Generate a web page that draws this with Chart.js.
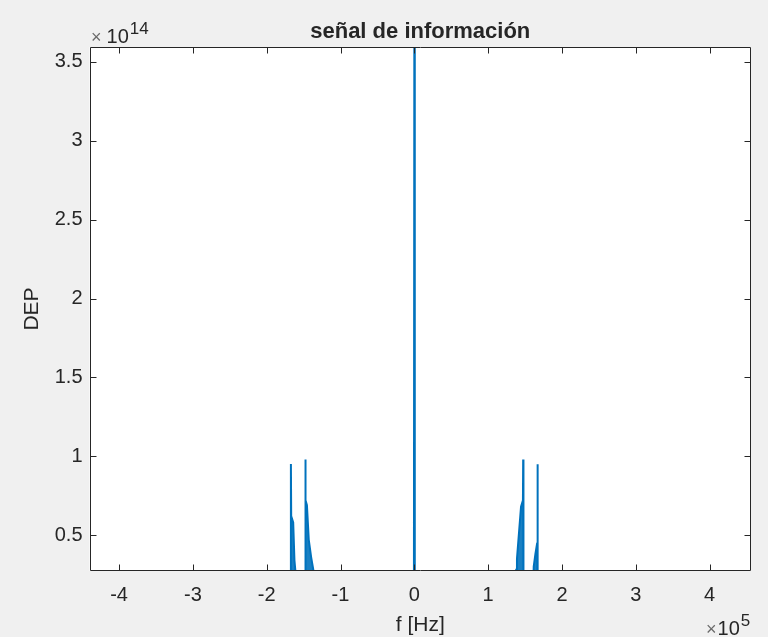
<!DOCTYPE html>
<html>
<head>
<meta charset="utf-8">
<script src="https://cdn.jsdelivr.net/npm/chart.js@4/dist/chart.umd.min.js"></script>
<style>
  html, body { margin: 0; padding: 0; background: #f0f0f0; }
  #wrap { width: 768px; height: 637px; }
</style>
</head>
<body>
<div id="wrap"><canvas id="c" width="768" height="637"></canvas></div>
<script>
// ---- data (frequency in units of 1e5 Hz, DEP in units of 1e14) ----
const freq = [-4.40,
  -1.676, -1.672, -1.668, -1.641, -1.624, -1.611, -1.600, -1.590,
  -1.480, -1.476, -1.472, -1.455, -1.430, -1.398, -1.365, -1.340,
  -0.006, 0.000, 0.006,
  1.360, 1.380, 1.390, 1.445, 1.471, 1.474, 1.478,
  1.605, 1.617, 1.640, 1.664, 1.668, 1.672,
  4.56];
const dep = [0,
  0, 0.95, 0.62, 0.58, 0.34, 0.27, 0.20, 0,
  0, 0.979, 0.72, 0.69, 0.47, 0.36, 0.27, 0,
  0, 3.80, 0,
  0, 0.28, 0.35, 0.68, 0.72, 0.979, 0,
  0, 0.30, 0.38, 0.45, 0.949, 0,
  0];
const xTicks = [-4, -3, -2, -1, 0, 1, 2, 3, 4];
const xTickLabels = ["-4", "-3", "-2", "-1", "0", "1", "2", "3", "4"];
const yTicks = [0.5, 1, 1.5, 2, 2.5, 3, 3.5];
const yTickLabels = ["0.5", "1", "1.5", "2", "2.5", "3", "3.5"];
const titleText = "señal de información";
const xLabel = "f [Hz]";
const yLabel = "DEP";
const xExp = "5";
const yExp = "14";

const FONT = "'Liberation Sans', Arial, Helvetica, sans-serif";
const TXT = "#262626";

const decor = {
  id: 'decor',
  beforeDraw(chart) {
    const { ctx, chartArea: a } = chart;
    ctx.save();
    ctx.fillStyle = '#f0f0f0';
    ctx.fillRect(0, 0, chart.width, chart.height);
    ctx.fillStyle = '#ffffff';
    ctx.fillRect(a.left, a.top, a.right - a.left, a.bottom - a.top);
    ctx.restore();
  },
  afterDraw(chart) {
    const { ctx, chartArea: a, scales } = chart;
    const L = Math.round(a.left) + 0.5, R = Math.round(a.right) - 0.5;
    const T = Math.round(a.top) + 0.5, B = Math.round(a.bottom) - 0.5;
    const tl = 6;
    ctx.save();
    ctx.strokeStyle = TXT;
    ctx.lineWidth = 1;
    ctx.beginPath();
    ctx.rect(L, T, R - L, B - T);
    xTicks.forEach(v => {
      const px = Math.round(scales.x.getPixelForValue(v)) + 0.5;
      ctx.moveTo(px, B); ctx.lineTo(px, B - tl);
      ctx.moveTo(px, T); ctx.lineTo(px, T + tl);
    });
    yTicks.forEach(v => {
      const py = Math.round(scales.y.getPixelForValue(v)) + 0.5;
      ctx.moveTo(L, py); ctx.lineTo(L + tl, py);
      ctx.moveTo(R, py); ctx.lineTo(R - tl, py);
    });
    ctx.stroke();

    ctx.fillStyle = TXT;
    // title
    ctx.font = "bold 22px " + FONT;
    ctx.textAlign = 'center';
    ctx.textBaseline = 'alphabetic';
    ctx.fillText(titleText, (a.left + a.right) / 2, 37.5);
    // x label
    ctx.font = "21px " + FONT;
    ctx.fillText(xLabel, (a.left + a.right) / 2, 631);
    // y label
    ctx.save();
    ctx.translate(38, (a.top + a.bottom) / 2);
    ctx.rotate(-Math.PI / 2);
    ctx.fillText(yLabel, 0, 0);
    ctx.restore();
    // exponents
    const drawExp = (x, y, exp, gap) => {
      ctx.textAlign = 'left';
      ctx.fillStyle = '#6a6a6a';
      ctx.font = "18px " + FONT;
      ctx.fillText("\u00d7", x, y);
      let w = ctx.measureText("\u00d7").width + gap;
      ctx.fillStyle = TXT;
      ctx.font = "20px " + FONT;
      ctx.fillText("10", x + w, y);
      w += ctx.measureText("10").width + 1;
      ctx.font = "17px " + FONT;
      ctx.fillText(exp, x + w, y - 9);
    };
    drawExp(91, 43, yExp, 5);
    drawExp(706, 635, xExp, 1);
    ctx.restore();
  }
};

const pts = freq.map((f, i) => ({ x: f, y: dep[i] }));

new Chart(document.getElementById('c'), {
  type: 'line',
  data: {
    datasets: [{
      data: pts,
      borderColor: '#0072BD',
      backgroundColor: 'rgba(0,114,189,0.9)',
      borderWidth: 2,
      pointRadius: 0,
      tension: 0,
      fill: 'origin'
    }]
  },
  options: {
    responsive: false,
    animation: false,
    devicePixelRatio: 1,
    layout: { padding: { left: 0, top: 47, right: 17, bottom: 0 } },
    plugins: { legend: { display: false }, tooltip: { enabled: false }, title: { display: false } },
    scales: {
      x: {
        type: 'linear',
        min: -4.40, max: 4.56,
        grid: { display: false, drawTicks: false },
        border: { display: false },
        afterBuildTicks: s => { s.ticks = xTicks.map(v => ({ value: v })); },
        afterFit: s => { s.height = 66; },
        ticks: {
          color: TXT, padding: 12, maxRotation: 0, autoSkip: false,
          font: { family: FONT, size: 20 },
          callback: (v) => { const i = xTicks.indexOf(v); return i >= 0 ? xTickLabels[i] : ''; }
        }
      },
      y: {
        type: 'linear',
        min: 0.272, max: 3.595,
        grid: { display: false, drawTicks: false },
        border: { display: false },
        afterBuildTicks: s => { s.ticks = yTicks.map(v => ({ value: v })); },
        afterFit: s => { s.width = 89.5; },
        ticks: {
          color: TXT, padding: 7, autoSkip: false,
          font: { family: FONT, size: 20 },
          callback: (v) => { const i = yTicks.indexOf(v); return i >= 0 ? yTickLabels[i] : ''; }
        }
      }
    }
  },
  plugins: [decor]
});
</script>
</body>
</html>
